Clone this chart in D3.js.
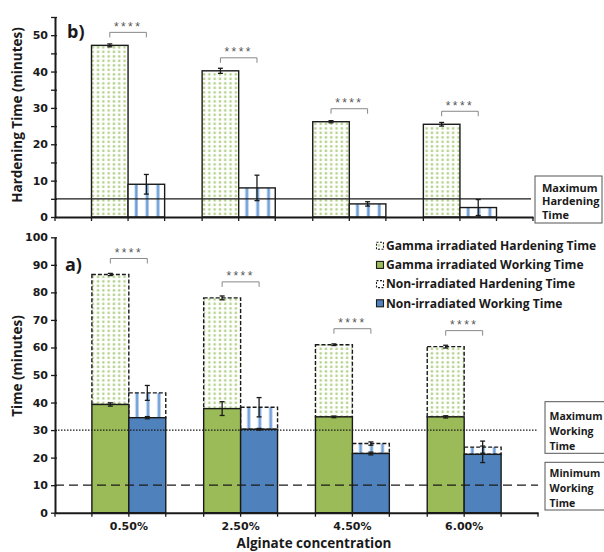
<!DOCTYPE html>
<html>
<head>
<meta charset="utf-8">
<script src="https://cdn.jsdelivr.net/npm/d3@7"></script>
<style>
  html, body { margin: 0; padding: 0; background: #fff; }
  svg { display: block; }
</style>
</head>
<body>
<svg id="chart" width="604" height="552"></svg>
<script>
// ---------------- DATA ----------------
const categories = ["0.50%", "2.50%", "4.50%", "6.00%"];
const series = ["gamma", "non"];
const gammaWorking      = [39.3, 37.8, 34.8, 34.8];
const gammaWorkingErr   = [0.6, 2.5, 0.3, 0.4];
const gammaHardening    = [47.2, 40.2, 26.2, 25.5];
const gammaHardeningErr = [0.4, 0.7, 0.3, 0.5];
const nonWorking        = [34.5, 30.3, 21.5, 21.2];
const nonWorkingErr     = [0.4, 0.3, 0.5, 3.0];
const nonHardening      = [9.0, 8.0, 3.6, 2.6];
const nonHardeningErr   = [2.7, 3.5, 0.6, 2.2];
const topTicks = [0, 5, 10, 15, 20, 25, 30, 35, 40, 45, 50, 55];
const bottomTicks = [0, 10, 20, 30, 40, 50, 60, 70, 80, 90, 100];
const maxHardeningTime = 5;
const maxWorkingTime = 30;
const minWorkingTime = 10;
const legendLabels = [
  "Gamma irradiated Hardening Time",
  "Gamma irradiated Working Time",
  "Non-irradiated Hardening Time",
  "Non-irradiated Working Time"
];
const significance = ["****", "****", "****", "****"];

// ---------------- STYLE ----------------
const GREEN = "#9bbb59", BLUE = "#4f81bd", INK = "#1a1a1a";
const TICKFONT = "'DejaVu Sans', Verdana, sans-serif";
const TEXTFONT = "'Open Sans', 'Noto Sans', sans-serif";

const svg = d3.select("#chart");
const defs = svg.append("defs");

// dots pattern (gamma hardening)
const dots = defs.append("pattern").attr("id", "dots")
  .attr("patternUnits", "userSpaceOnUse").attr("width", 5.3).attr("height", 4.5);
dots.append("rect").attr("width", 5.3).attr("height", 4.5).attr("fill", "#fff");
dots.append("rect").attr("x", 1.5).attr("y", 1.2).attr("width", 2.3).attr("height", 2.3)
  .attr("fill", "#b0d085");

// stripes pattern (non-irradiated hardening)
const stripes = defs.append("pattern").attr("id", "stripes")
  .attr("patternUnits", "objectBoundingBox").attr("width", 0.297).attr("height", 1);
stripes.append("rect").attr("width", 11).attr("height", 1000).attr("fill", "#fff");
stripes.append("rect").attr("x", 6.5).attr("width", 3.4).attr("height", 1000).attr("fill", "#a9c6ea");
stripes.append("rect").attr("x", 7.3).attr("width", 1.8).attr("height", 1000).attr("fill", "#6b9bd6");

// ---------------- SCALES ----------------
const yTop = d3.scaleLinear().domain([0, 55]).range([217, 17]);
const xTop = d3.scaleBand().domain(categories).range([55, 533]).paddingInner(0.339).paddingOuter(0.33);
const sTop = d3.scaleBand().domain(series).range([0, xTop.bandwidth()]);

const yBot = d3.scaleLinear().domain([0, 100]).range([512.7, 237.3]);
const xBot = d3.scaleBand().domain(categories).range([55, 538]).paddingInner(0.339).paddingOuter(0.33);
const sBot = d3.scaleBand().domain(series).range([0, xBot.bandwidth()]);

function errorBar(g, x, yScale, v, e) {
  const y1 = yScale(v + e), y2 = yScale(v - e);
  g.append("line").attr("x1", x).attr("x2", x).attr("y1", y1).attr("y2", y2)
    .attr("stroke", INK).attr("stroke-width", 1.3);
  [y1, y2].forEach(y => g.append("line").attr("x1", x - 2.5).attr("x2", x + 2.5)
    .attr("y1", y).attr("y2", y).attr("stroke", INK).attr("stroke-width", 1.3));
}

function bracket(g, x1, x2, y, label) {
  g.append("path").attr("d", `M${x1},${y + 5}V${y}H${x2}V${y + 5}`)
    .attr("fill", "none").attr("stroke", "#888").attr("stroke-width", 1);
  g.append("text").attr("x", (x1 + x2) / 2).attr("y", y - 1.5)
    .attr("text-anchor", "middle").attr("font-family", "'Liberation Sans', Arial, sans-serif")
    .attr("font-size", 12).attr("letter-spacing", 2.4).attr("fill", "#555")
    .text(label);
}

function yAxis(g, yScale, ticks, labelEvery) {
  const ax = d3.axisLeft(yScale).tickValues(ticks)
    .tickFormat(d => d % labelEvery === 0 ? d : "")
    .tickSizeInner(4).tickSizeOuter(0).tickPadding(3);
  g.attr("transform", "translate(55,0)").call(ax);
  g.select(".domain").attr("stroke", INK).attr("stroke-width", 2);
  g.selectAll(".tick line").attr("stroke", INK).attr("stroke-width", 1.3).attr("x2", -4).attr("x1", 2);
  g.selectAll(".tick text").attr("font-family", TICKFONT).attr("font-size", 11)
    .attr("font-weight", "bold").attr("fill", INK);
}

function xAxis(g, xScale, sScale, y0, showLabels) {
  const ax = d3.axisBottom(xScale).tickSize(0).tickPadding(10).tickSizeOuter(0)
    .tickFormat(showLabels ? (d => d) : (() => ""));
  g.attr("transform", `translate(0,${y0})`).call(ax);
  g.select(".domain").attr("stroke", INK).attr("stroke-width", 2);
  g.selectAll(".tick text").attr("font-family", TICKFONT).attr("font-size", 11)
    .attr("font-weight", "bold").attr("fill", INK);
  const edges = [xScale.range()[0], xScale.range()[1]];
  categories.forEach(c => {
    const b = xScale(c);
    edges.push(b, b + sScale.bandwidth(), b + 2 * sScale.bandwidth());
  });
  edges.forEach(x => g.append("line").attr("x1", x).attr("x2", x).attr("y1", 0).attr("y2", 4)
    .attr("stroke", INK).attr("stroke-width", 1.3));
}

function noteBox(lines, x, y, w, h, firstBaseline, lineH, fs, pad) {
  svg.append("rect").attr("x", x).attr("y", y).attr("width", w).attr("height", h)
    .attr("fill", "#fff").attr("stroke", "#555").attr("stroke-width", 1);
  lines.forEach((t, i) => svg.append("text").attr("x", x + pad).attr("y", firstBaseline + i * lineH)
    .attr("font-family", TEXTFONT).attr("font-weight", "bold").attr("font-size", fs)
    .attr("fill", INK).text(t));
}

// ================= TOP PANEL (b) =================
const gTop = svg.append("g");
categories.forEach((c, i) => {
  const xg = xTop(c) + sTop("gamma"), xn = xTop(c) + sTop("non"), bw = sTop.bandwidth();
  gTop.append("rect").attr("x", xg).attr("y", yTop(gammaHardening[i]))
    .attr("width", bw).attr("height", yTop(0) - yTop(gammaHardening[i]))
    .attr("fill", "url(#dots)").attr("stroke", INK).attr("stroke-width", 1.4);
  gTop.append("rect").attr("x", xn).attr("y", yTop(nonHardening[i]))
    .attr("width", bw).attr("height", yTop(0) - yTop(nonHardening[i]))
    .attr("fill", "url(#stripes)").attr("stroke", INK).attr("stroke-width", 1.4);
  errorBar(gTop, xg + bw / 2, yTop, gammaHardening[i], gammaHardeningErr[i]);
  errorBar(gTop, xn + bw / 2, yTop, nonHardening[i], nonHardeningErr[i]);
  bracket(gTop, xg + bw / 2, xn + bw / 2, yTop(gammaHardening[i]) - 13, significance[i]);
});
gTop.append("line").attr("x1", 55).attr("x2", 531)
  .attr("y1", yTop(maxHardeningTime)).attr("y2", yTop(maxHardeningTime))
  .attr("stroke", INK).attr("stroke-width", 1.2);
yAxis(svg.append("g"), yTop, topTicks, 10);
xAxis(svg.append("g"), xTop, sTop, yTop(0), false);

svg.append("text").attr("transform", "translate(22,115) rotate(-90)")
  .attr("text-anchor", "middle").attr("font-family", TEXTFONT).attr("font-weight", "bold")
  .attr("font-size", 13.5).attr("fill", INK).text("Hardening Time (minutes)");
svg.append("text").attr("x", 67).attr("y", 38).attr("font-family", TEXTFONT)
  .attr("font-weight", "bold").attr("font-size", 18).attr("fill", INK).text("b)");
noteBox(["Maximum", "Hardening", "Time"], 535, 176, 67, 47, 191.5, 13.5, 11, 7);

// ================= BOTTOM PANEL (a) =================
const gBot = svg.append("g");
categories.forEach((c, i) => {
  const xg = xBot(c) + sBot("gamma"), xn = xBot(c) + sBot("non"), bw = sBot.bandwidth();
  const gTot = gammaWorking[i] + gammaHardening[i];
  const nTot = nonWorking[i] + nonHardening[i];
  // hardening segments (dashed)
  gBot.append("rect").attr("x", xg).attr("y", yBot(gTot)).attr("width", bw)
    .attr("height", yBot(gammaWorking[i]) - yBot(gTot))
    .attr("fill", "url(#dots)").attr("stroke", INK).attr("stroke-width", 1.4)
    .attr("stroke-dasharray", "4,2");
  gBot.append("rect").attr("x", xn).attr("y", yBot(nTot)).attr("width", bw)
    .attr("height", yBot(nonWorking[i]) - yBot(nTot))
    .attr("fill", "url(#stripes)").attr("stroke", INK).attr("stroke-width", 1.4)
    .attr("stroke-dasharray", "4,2");
  // working segments
  gBot.append("rect").attr("x", xg).attr("y", yBot(gammaWorking[i])).attr("width", bw)
    .attr("height", yBot(0) - yBot(gammaWorking[i]))
    .attr("fill", GREEN).attr("stroke", INK).attr("stroke-width", 1.4);
  gBot.append("rect").attr("x", xn).attr("y", yBot(nonWorking[i])).attr("width", bw)
    .attr("height", yBot(0) - yBot(nonWorking[i]))
    .attr("fill", BLUE).attr("stroke", INK).attr("stroke-width", 1.4);
  errorBar(gBot, xg + bw / 2, yBot, gammaWorking[i], gammaWorkingErr[i]);
  errorBar(gBot, xn + bw / 2, yBot, nonWorking[i], nonWorkingErr[i]);
  errorBar(gBot, xg + bw / 2, yBot, gTot, gammaHardeningErr[i]);
  errorBar(gBot, xn + bw / 2, yBot, nTot, nonHardeningErr[i]);
  bracket(gBot, xg + bw / 2, xn + bw / 2, yBot(gTot) - 16, significance[i]);
});
gBot.append("line").attr("x1", 55).attr("x2", 538)
  .attr("y1", yBot(maxWorkingTime)).attr("y2", yBot(maxWorkingTime))
  .attr("stroke", INK).attr("stroke-width", 1.3).attr("stroke-dasharray", "1.5,1.5");
gBot.append("line").attr("x1", 55).attr("x2", 538)
  .attr("y1", yBot(minWorkingTime)).attr("y2", yBot(minWorkingTime))
  .attr("stroke", INK).attr("stroke-width", 1.4).attr("stroke-dasharray", "9,5");
yAxis(svg.append("g"), yBot, bottomTicks, 10);
xAxis(svg.append("g"), xBot, sBot, yBot(0), true);

svg.append("text").attr("transform", "translate(22,366) rotate(-90)")
  .attr("text-anchor", "middle").attr("font-family", TEXTFONT).attr("font-weight", "bold")
  .attr("font-size", 13.5).attr("fill", INK).text("Time (minutes)");
svg.append("text").attr("x", 314).attr("y", 548).attr("text-anchor", "middle")
  .attr("font-family", TEXTFONT).attr("font-weight", "bold").attr("font-size", 13.5)
  .attr("fill", INK).text("Alginate concentration");
svg.append("text").attr("x", 65).attr("y", 271).attr("font-family", TEXTFONT)
  .attr("font-weight", "bold").attr("font-size", 18).attr("fill", INK).text("a)");
noteBox(["Maximum", "Working", "Time"], 545, 401.7, 70, 51.6, 419.5, 15, 10.5, 4.5);
noteBox(["Minimum", "Working", "Time"], 545, 462.3, 70, 47.7, 477, 15, 10.5, 4.5);

// legend
const legFills = ["url(#dots)", GREEN, "url(#stripes)", BLUE];
const legDash = ["2,1.5", null, "2,1.5", null];
const leg = svg.append("g");
legendLabels.forEach((t, i) => {
  const cy = 245.7 + i * 19.2;
  leg.append("rect").attr("x", 376.5).attr("y", cy - 3.5).attr("width", 7).attr("height", 7)
    .attr("fill", legFills[i]).attr("stroke", INK).attr("stroke-width", 1.1)
    .attr("stroke-dasharray", legDash[i]);
  leg.append("text").attr("x", 386).attr("y", cy + 4.3).attr("font-family", TEXTFONT)
    .attr("font-weight", "bold").attr("font-size", 12.1).attr("fill", INK).text(t);
});
</script>
</body>
</html>
